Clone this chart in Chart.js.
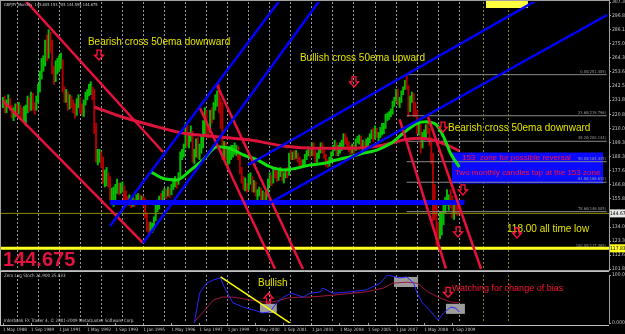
<!DOCTYPE html>
<html>
<head>
<meta charset="utf-8">
<script src="https://cdn.jsdelivr.net/npm/chart.js@4.4.1/dist/chart.umd.min.js"></script>
<style>
  html, body { margin: 0; padding: 0; background: #000; }
  #wrap { position: relative; width: 625px; height: 334px; background: #000; overflow: hidden; }
  #main { position: absolute; left: 0; top: 0; }
  #ind { position: absolute; left: 0; top: 271px; }
</style>
</head>
<body>
<div id="wrap">
  <canvas id="main" width="625" height="271"></canvas>
  <canvas id="ind" width="625" height="63"></canvas>
</div>
<script>
// month index 0 = May 1988, one bar per month (GBPJPY monthly)
const highs = [
  234, 235, 232, 236, 233, 228, 226, 229,                     // 1988 May-Dec
  229, 230, 228, 226, 227, 228, 235, 234, 238, 237, 230, 235, // 1989
  244, 254, 264, 266, 278, 282, 286, 284, 278, 258, 262, 264, // 1990
  266, 268, 263, 242, 240, 238, 236, 235, 232, 229, 233, 236, // 1991
  234, 229, 232, 238, 240, 244, 246, 242, 240, 214, 194, 194, // 1992
  192, 188, 178, 180, 176, 173, 164, 165, 167, 171, 168, 168, // 1993
  169, 166, 162, 158, 159, 157, 157, 156, 159, 160, 159, 158, // 1994
  158, 156, 145, 138, 138, 137, 142, 152, 155, 158, 160, 162, // 1995
  164, 163, 165, 164, 167, 171, 173, 171, 176, 192, 194, 198, // 1996
  214, 213, 207, 212, 208, 194, 202, 203, 198, 204, 216, 226, // 1997
  224, 213, 224, 226, 230, 236, 239, 244, 233, 230, 200, 199, // 1998
  194, 196, 197, 197, 199, 197, 196, 190, 180, 173, 172, 168, // 1999
  175, 176, 173, 170, 169, 163, 165, 164, 162, 161, 162, 171, // 2000
  176, 174, 179, 180, 177, 177, 180, 178, 176, 179, 180, 191, // 2001
  193, 192, 193, 193, 191, 188, 186, 186, 190, 193, 196, 195, // 2002
  199, 199, 193, 191, 194, 199, 199, 194, 190, 186, 188, 192, // 2003
  197, 201, 199, 197, 199, 201, 206, 206, 203, 200, 197, 198, // 2004
  197, 202, 204, 205, 204, 201, 200, 202, 203, 206, 209, 210, // 2005
  212, 210, 207, 211, 214, 214, 221, 222, 223, 225, 231, 234, // 2006
  240, 240, 234, 239, 242, 247, 251, 243, 235, 238, 237, 230, // 2007
  224, 214, 213, 207, 209, 213, 215, 210, 203, 191, 167, 153, // 2008
  138, 146, 146, 151, 157, 163, 159, 163, 158, 152, 153, 153, // 2009
  153.705                                                     // 2010 Jan
];
const lows = [
  226, 222, 222, 228, 224, 218, 216, 219,
  220, 221, 218, 216, 215, 212, 222, 223, 224, 224, 221, 224,
  230, 238, 248, 254, 258, 262, 264, 268, 252, 244, 246, 252,
  254, 256, 238, 230, 230, 224, 225, 226, 222, 218, 220, 226,
  222, 220, 219, 228, 232, 235, 236, 232, 206, 184, 182, 184,
  180, 168, 165, 166, 165, 155, 153, 150, 155, 160, 159, 160,
  161, 155, 153, 151, 151, 149, 150, 150, 152, 154, 153, 153,
  150, 141, 131, 129, 130, 130, 132, 139, 146, 148, 152, 154,
  157, 156, 158, 157, 159, 163, 165, 164, 167, 173, 186, 188,
  195, 196, 195, 200, 184, 183, 188, 187, 186, 191, 195, 206,
  205, 203, 207, 214, 217, 224, 227, 222, 210, 186, 187, 186,
  180, 183, 186, 188, 190, 189, 186, 175, 168, 163, 162, 161,
  163, 167, 161, 161, 158, 155, 158, 155, 152, 151, 153, 158,
  166, 166, 168, 172, 169, 170, 173, 170, 168, 172, 172, 174,
  186, 186, 186, 187, 184, 181, 180, 180, 182, 186, 189, 188,
  189, 189, 184, 184, 187, 191, 191, 187, 181, 180, 181, 184,
  189, 193, 189, 189, 191, 193, 196, 198, 196, 192, 190, 191,
  191, 193, 199, 198, 195, 193, 193, 195, 197, 199, 202, 200,
  202, 203, 200, 203, 205, 206, 210, 216, 217, 219, 221, 227,
  231, 228, 226, 230, 236, 240, 240, 219, 223, 230, 219, 219,
  206, 205, 191, 195, 201, 203, 206, 197, 183, 139, 140, 120,
  118.8, 125, 128, 136, 145, 151, 147, 149, 141, 140, 144, 143,
  144.595
];
const closes = [
  231, 225, 230, 232, 226, 222, 222, 227,
  224, 226, 223, 222, 222, 224, 231, 226, 235, 227, 226, 232,
  240, 252, 260, 261, 272, 264, 276, 275, 255, 250, 258, 260,
  261, 262, 240, 234, 236, 227, 232, 231, 228, 223, 231, 232,
  226, 224, 230, 235, 237, 240, 240, 239, 213, 187, 187, 190,
  186, 172, 173, 174, 172, 158, 158, 158, 163, 168, 163, 165,
  165, 159, 157, 153, 156, 152, 155, 153, 157, 158, 155, 156,
  155, 144, 136, 134, 134, 135, 140, 150, 150, 157, 155, 160,
  161, 160, 163, 160, 165, 170, 170, 168, 174, 191, 191, 196,
  212, 198, 205, 206, 188, 190, 200, 190, 194, 197, 213, 217,
  210, 209, 222, 219, 228, 230, 237, 232, 229, 192, 198, 190,
  190, 191, 191, 193, 195, 195, 189, 178, 170, 166, 168, 165,
  172, 172, 163, 168, 160, 160, 162, 160, 160, 157, 160, 171,
  171, 170, 178, 176, 173, 176, 178, 171, 175, 177, 175, 190,
  189, 190, 189, 190, 187, 184, 183, 183, 188, 191, 194, 190,
  198, 191, 185, 190, 193, 198, 193, 189, 184, 183, 186, 191,
  194, 198, 191, 195, 195, 197, 205, 200, 199, 194, 192, 196,
  194, 201, 202, 203, 196, 199, 196, 200, 200, 205, 206, 203,
  210, 205, 205, 209, 212, 212, 219, 221, 221, 223, 230, 233,
  239, 232, 232, 238, 241, 246, 243, 227, 234, 236, 223, 222,
  210, 212, 197, 204, 205, 212, 209, 200, 190, 161, 145, 131,
  128, 139, 142, 147, 154, 158, 158, 154, 143, 148, 146, 145.8,
  144.675
];

// moving averages (month index, price)
const emaSlowMonths = [52, 68, 84, 103, 122, 141, 160, 179, 198, 217, 228, 236, 245, 255, 260];
const emaSlowValues = [226.5, 218.8, 212.7, 206.3, 203.7, 201.1, 196.5, 194.8, 194.8, 197.3, 201.1, 202.4, 201.1, 196.0, 192.7];
const emaFastMonths = [84, 91, 99, 107, 114, 122, 129, 137, 145, 152, 160, 167, 175, 183, 190, 198, 205, 213, 221, 228, 236, 241, 247, 251, 255, 260];
const emaFastValues = [176.8, 171.7, 170.4, 178.1, 185.8, 196.0, 194.8, 189.6, 185.8, 180.6, 178.1, 179.4, 181.9, 183.2, 185.8, 188.3, 190.9, 193.4, 198.6, 206.3, 214.0, 215.2, 212.7, 203.7, 190.9, 180.4];

// trend lines: [month0, price0, month1, price1]
const blueTrendLines = [
  [61, 135, 157.8, 308.8],
  [79.8, 121.9, 180.6, 308.8],
  [139.6, 181.9, 304.3, 308.8],
  [152.1, 152.7, 344.2, 297.3]
];
const redTrendLines = [
  [12.5, 308.8, 91.2, 191.9],
  [0, 231, 79.8, 121.9],
  [112.2, 225.8, 155, 101.9],
  [121.9, 243.4, 170.9, 101.9],
  [226, 217, 252.4, 102.1],
  [242.2, 218.8, 272.4, 101.9]
];
const zoneLine = [61, 263, 153];           // from, to, price
const bidPrice = 144.675;
const allTimeLowLine = 117.83;
const fibLevels = [0, 23.6, 38.2, 50, 61.8, 78.6, 100];
const fibPrices = [251.405, 219.796, 200.144, 184.435, 168.632, 146.005, 117.465];
const fibStartMonth = 230;

// axis ticks
const priceTicks = [307.3, 296.86, 286.14, 275.08, 264.36, 253.64, 242.59, 231.87, 220.81, 210.09, 199.37, 188.32, 177.6, 166.88, 155.83, 134.08, 123.36, 112.63, 101.89];
const gridMonths = [8, 20, 32, 44, 56, 68, 80, 92, 104, 116, 128, 140, 152, 164, 176, 188, 200, 212, 224, 236, 248, 260];
const markerMonths = [274, 288];
const dateLabelMonths = [0, 16, 32, 48, 64, 80, 96, 112, 128, 144, 160, 176, 192, 208, 224, 240, 256];
const dateLabels = ['1 May 1988', '1 Sep 1989', '1 Jan 1991', '1 May 1992', '1 Sep 1993', '1 Jan 1995', '1 May 1996', '1 Sep 1997', '1 Jan 1999', '1 May 2000', '1 Sep 2001', '1 Jan 2003', '1 May 2004', '1 Sep 2005', '1 Jan 2007', '1 May 2008', '1 Sep 2009'];

// text notes on the price window: month, price
const mainNotes = [
  ['Bearish cross 50ema downward', 48.4, 276.5, 'yellow'],
  ['Bullish cross 50ema upward', 169.2, 264.2, 'yellow'],
  ['Bearish cross 50ema downward', 253.6, 210.4, 'yellow'],
  ['118.00 all time low', 287.2, 132.7, 'yellow'],
  ['153  zone for possible reversal', 261.5, 187.3, 'red'],
  ['Two monthly candles top at the 153 zone', 257.5, 175.8, 'red']
];
const mainArrows = [[54.7, 266.5], [200, 245.8], [250.7, 211.1], [262.1, 162.7], [259.3, 130.4], [292.9, 129.6]];
const zoneBox = [255.8, 341.9, 191.5, 167.6];
const topBox = [275.2, 299.1, 308.8, 302.7];

// Zero Lag Stoch window
const stochMonths = [109, 112, 116, 120, 124, 125, 128, 131, 137, 143, 148, 152, 156, 160, 164, 168, 171, 175, 181, 182, 188, 198, 207, 215, 219, 226, 230, 234, 236, 239, 243, 248, 251, 255, 258, 260];
const stochValues = [0, 62, 83, 90, 94, 83, 62, 42, 33, 27, 21, 23, 42, 54, 62, 58, 54, 62, 65, 73, 62, 65, 69, 83, 100, 94, 96, 83, 62, 42, 27, 6, 21, 33, 31, 23];
const signalMonths = [109, 115, 120, 125, 131, 141, 148, 154, 162, 169, 175, 188, 207, 217, 222, 230, 236, 242, 249, 255, 260];
const signalValues = [2, 27, 48, 54, 54, 48, 44, 44, 52, 54, 54, 58, 65, 73, 83, 85, 83, 65, 52, 44, 42];
const stochTrend = [124, 96, 166, -6];
const stochBoxes = [[146.4, 156, 40, 21], [222.8, 236.5, 96, 75], [252.4, 263.2, 40, 19]];

const X_MIN = -1.14, X_MAX = 345.3;
const SMALL = '"Liberation Sans Narrow", "DejaVu Sans Condensed", sans-serif';
const TEXT = '"Liberation Sans", Arial, sans-serif';
const YELLOW = '#e4e400';
const RED = '#ff1438';
const CRIMSON = '#e8103c';

function pts(ms, vs) { return ms.map((m, i) => ({ x: m, y: vs[i] })); }
function seg(l) { return [{ x: l[0], y: l[1] }, { x: l[2], y: l[3] }]; }

function arrow(ctx, x, y, color, up) {
  const d = up ? -1 : 1;
  ctx.save();
  ctx.strokeStyle = color;
  ctx.lineWidth = 1.3;
  ctx.beginPath();
  ctx.moveTo(x - 2, y - 5 * d);
  ctx.lineTo(x + 2, y - 5 * d);
  ctx.lineTo(x + 2, y);
  ctx.lineTo(x + 4.5, y);
  ctx.lineTo(x, y + 5 * d);
  ctx.lineTo(x - 4.5, y);
  ctx.lineTo(x - 2, y);
  ctx.closePath();
  ctx.stroke();
  ctx.restore();
}

const candleColors = closes.map((c, i) => (i === 0 || c >= closes[i - 1]) ? '#00c000' : '#b00000');

const lineSet = (data, color, width, order) => ({
  type: 'line', data, borderColor: color, borderWidth: width, pointRadius: 0, order: order
});

const mainDatasets = [
  {
    type: 'bar',
    data: highs.map((h, i) => ({ x: i, y: [lows[i], h] })),
    backgroundColor: candleColors,
    barThickness: 1.3,
    order: 20
  },
  lineSet([{ x: X_MIN, y: bidPrice }, { x: X_MAX, y: bidPrice }], '#8c8c00', 1, 15),
  lineSet([{ x: X_MIN, y: allTimeLowLine }, { x: X_MAX, y: allTimeLowLine }], '#ffff20', 3, 3),
  lineSet([{ x: zoneLine[0], y: zoneLine[2] }, { x: zoneLine[1], y: zoneLine[2] }], '#0000ff', 5, 2),
  Object.assign(lineSet(pts(emaSlowMonths, emaSlowValues), '#dc143c', 3, 6), { cubicInterpolationMode: 'monotone' }),
  Object.assign(lineSet(pts(emaFastMonths, emaFastValues), '#10e010', 3, 5), { cubicInterpolationMode: 'monotone' })
];
fibPrices.forEach(p => mainDatasets.push(lineSet([{ x: fibStartMonth, y: p }, { x: 344, y: p }], '#8a8a8a', 1, 16)));
blueTrendLines.forEach(l => mainDatasets.push(lineSet(seg(l), '#0000ff', 2.5, 1)));
redTrendLines.forEach(l => mainDatasets.push(lineSet(seg(l), CRIMSON, 2.5, 1)));

const mainDecor = {
  id: 'mainDecor',
  beforeDatasetsDraw(chart) {
    const { ctx, scales: { x, y } } = chart;
    ctx.save();
    ctx.fillStyle = '#0a0aff';
    ctx.fillRect(x.getPixelForValue(zoneBox[0]), y.getPixelForValue(zoneBox[2]),
      x.getPixelForValue(zoneBox[1]) - x.getPixelForValue(zoneBox[0]), y.getPixelForValue(zoneBox[3]) - y.getPixelForValue(zoneBox[2]));
    ctx.fillStyle = '#ffff40';
    ctx.fillRect(x.getPixelForValue(topBox[0]), y.getPixelForValue(topBox[2]),
      x.getPixelForValue(topBox[1]) - x.getPixelForValue(topBox[0]), y.getPixelForValue(topBox[3]) - y.getPixelForValue(topBox[2]));
    ctx.restore();
  },
  afterDatasetsDraw(chart) {
    const { ctx, chartArea: a, scales: { x, y } } = chart;
    ctx.save();
    // fib labels
    ctx.font = '4px ' + SMALL;
    ctx.fillStyle = '#9a9a9a';
    ctx.textAlign = 'right';
    ctx.textBaseline = 'bottom';
    fibLevels.forEach((lv, i) => {
      ctx.fillText(lv.toFixed(2) + '(' + fibPrices[i].toFixed(3) + ')', a.right - 3, y.getPixelForValue(fibPrices[i]) - 1);
    });
    // notes
    ctx.textAlign = 'left';
    ctx.textBaseline = 'middle';
    mainNotes.forEach(([t, m, p, c]) => {
      ctx.font = (c === 'red' ? '8px ' : '10px ') + TEXT;
      ctx.fillStyle = c === 'red' ? RED : YELLOW;
      ctx.fillText(t, x.getPixelForValue(m), y.getPixelForValue(p));
    });
    mainArrows.forEach(([m, p]) => arrow(ctx, x.getPixelForValue(m), y.getPixelForValue(p), RED, false));
    // title and big price label
    ctx.font = '4px ' + SMALL;
    ctx.fillStyle = '#d0d0d0';
    ctx.fillText('GBPJPY,Monthly  145.805 153.705 144.595 144.675', a.left + 3, a.top + 3);
    ctx.font = 'bold 20px ' + TEXT;
    ctx.fillStyle = '#e0143c';
    ctx.textBaseline = 'alphabetic';
    ctx.fillText('144.675', a.left + 2, a.bottom - 3);
    // price boxes on the axis
    ctx.font = '5px ' + SMALL;
    ctx.textBaseline = 'middle';
    [[bidPrice, '#e8e8e8', '144.675'], [allTimeLowLine, '#ffff20', '117.830']].forEach(([p, bg, t]) => {
      const py = y.getPixelForValue(p);
      ctx.fillStyle = bg;
      ctx.fillRect(a.right, py - 4, 16, 8);
      ctx.fillStyle = '#000';
      ctx.fillText(t, a.right + 1, py);
    });
    // window frame
    ctx.strokeStyle = '#a0a0a0';
    ctx.lineWidth = 1;
    ctx.strokeRect(0.5, 0.5, a.right, 270);
    ctx.restore();
  }
};

new Chart(document.getElementById('main'), {
  type: 'line',
  data: { datasets: mainDatasets },
  options: {
    responsive: false,
    animation: false,
    events: [],
    layout: { padding: { left: 1, top: 2, right: 0, bottom: 2 } },
    plugins: { legend: { display: false }, tooltip: { enabled: false } },
    scales: {
      x: {
        type: 'linear', min: X_MIN, max: X_MAX, offset: false,
        ticks: { display: false },
        grid: {
          offset: false, drawTicks: false, lineWidth: 1,
          color: c => markerMonths.includes(c.tick.value) ? '#8c8c00' : '#9a9a9a'
        },
        border: { display: false, dash: [2, 2] },
        afterBuildTicks: s => { s.ticks = gridMonths.concat(markerMonths).map(v => ({ value: v })); },
        afterFit: s => { s.height = 0; s.paddingLeft = 0; s.paddingRight = 0; }
      },
      y: {
        position: 'right', min: 101.89, max: 307.3,
        ticks: {
          autoSkip: false, color: '#c8c8c8', padding: 1,
          font: { size: 5, family: SMALL },
          callback: v => v.toFixed(3)
        },
        grid: { drawOnChartArea: false, tickLength: 2, color: '#a0a0a0' },
        border: { display: true, color: '#a0a0a0' },
        afterBuildTicks: s => { s.ticks = priceTicks.map(v => ({ value: v })); },
        afterFit: s => { s.width = 16; s.paddingTop = 0; s.paddingBottom = 0; }
      }
    }
  },
  plugins: [mainDecor]
});

// ---- indicator window ----
const indTicks = Array.from(new Set(gridMonths.concat(dateLabelMonths, markerMonths))).sort((a, b) => a - b);

const indDecor = {
  id: 'indDecor',
  beforeDatasetsDraw(chart) {
    const { ctx, scales: { x, y } } = chart;
    ctx.save();
    ctx.fillStyle = '#9c9c9c';
    stochBoxes.forEach(([m0, m1, v0, v1]) => {
      const px = x.getPixelForValue(m0), py = y.getPixelForValue(v0);
      ctx.fillRect(px, py, x.getPixelForValue(m1) - px, y.getPixelForValue(v1) - py);
    });
    ctx.restore();
  },
  afterDatasetsDraw(chart) {
    const { ctx, chartArea: a, scales: { x, y } } = chart;
    ctx.save();
    ctx.textBaseline = 'middle';
    ctx.font = '10px ' + TEXT;
    ctx.fillStyle = YELLOW;
    ctx.fillText('Bullish', x.getPixelForValue(145.3), y.getPixelForValue(82));
    ctx.font = '9px ' + TEXT;
    ctx.fillStyle = RED;
    ctx.fillText('Watching for change of bias', x.getPixelForValue(255.8), y.getPixelForValue(71));
    arrow(ctx, x.getPixelForValue(151.3), y.getPixelForValue(52), RED, true);
    arrow(ctx, x.getPixelForValue(253.6), y.getPixelForValue(64), RED, false);
    ctx.font = '4.5px ' + SMALL;
    ctx.fillStyle = '#c8c8c8';
    ctx.fillText('Zero Lag Stoch 21,900 35.033', a.left + 3, 5);
    ctx.fillText('Interbank FX Trader 4, \u00a9 2001-2009 MetaQuotes Software Corp.', a.left + 3, a.bottom - 2);
    ctx.strokeStyle = '#c0c0c0';
    ctx.lineWidth = 1;
    ctx.beginPath();
    ctx.moveTo(0, 0.5); ctx.lineTo(a.right, 0.5);
    ctx.moveTo(0.5, 0); ctx.lineTo(0.5, a.bottom + 2);
    ctx.moveTo(0, a.bottom + 2.5); ctx.lineTo(a.right, a.bottom + 2.5);
    ctx.stroke();
    ctx.restore();
  }
};

new Chart(document.getElementById('ind'), {
  type: 'line',
  data: {
    datasets: [
      lineSet(pts(signalMonths, signalValues), '#a0183c', 1, 2),
      lineSet(pts(stochMonths, stochValues), '#2828ff', 1, 1),
      lineSet(seg(stochTrend), '#ffff00', 1.5, 0)
    ]
  },
  options: {
    responsive: false,
    animation: false,
    events: [],
    layout: { padding: { left: 1, top: 4, right: 0, bottom: 0 } },
    plugins: { legend: { display: false }, tooltip: { enabled: false } },
    scales: {
      x: {
        type: 'linear', min: X_MIN, max: X_MAX, offset: false,
        ticks: {
          autoSkip: false, maxRotation: 0, minRotation: 0, align: 'start', padding: 1,
          color: '#c8c8c8', font: { size: 4.5, family: SMALL },
          callback: v => { const k = dateLabelMonths.indexOf(v); return k >= 0 ? dateLabels[k] : ''; }
        },
        grid: {
          offset: false, lineWidth: 1, tickLength: 3,
          color: c => markerMonths.includes(c.tick.value) ? '#8c8c00' : (gridMonths.includes(c.tick.value) ? '#9a9a9a' : 'rgba(0,0,0,0)'),
          tickColor: c => dateLabelMonths.includes(c.tick.value) ? '#a0a0a0' : 'rgba(0,0,0,0)'
        },
        border: { display: false, dash: [2, 2] },
        afterBuildTicks: s => { s.ticks = indTicks.map(v => ({ value: v })); },
        afterFit: s => { s.height = 11; s.paddingLeft = 0; s.paddingRight = 0; }
      },
      y: {
        position: 'right', min: 0, max: 100,
        ticks: {
          autoSkip: false, color: '#c8c8c8', padding: 1,
          font: { size: 5, family: SMALL },
          callback: v => v === 100 ? '100.002' : '0.000'
        },
        grid: { drawOnChartArea: false, tickLength: 2, color: '#a0a0a0' },
        border: { display: true, color: '#a0a0a0' },
        afterBuildTicks: s => { s.ticks = [{ value: 100 }, { value: 0 }]; },
        afterFit: s => { s.width = 16; s.paddingTop = 0; s.paddingBottom = 0; }
      }
    }
  },
  plugins: [indDecor]
});
</script>
</body>
</html>
